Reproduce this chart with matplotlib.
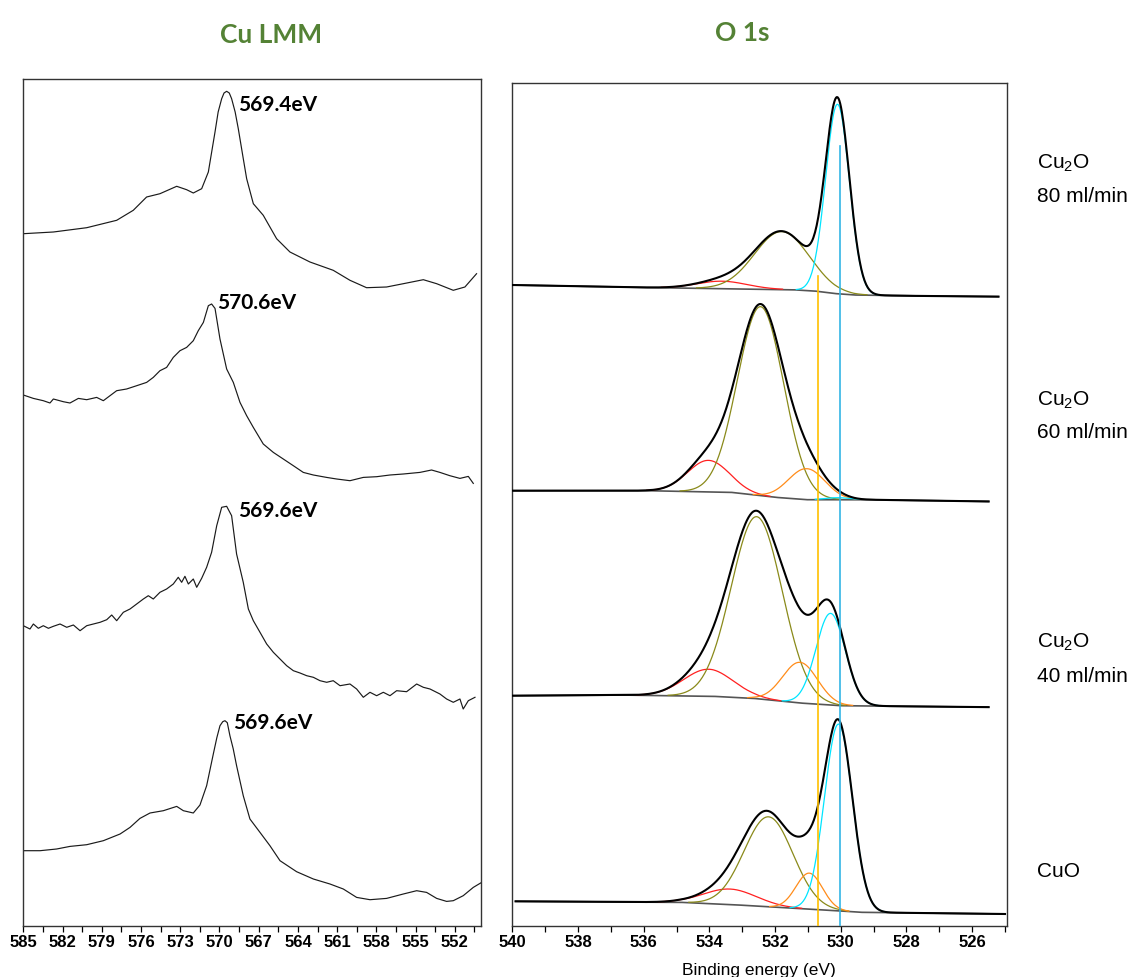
import matplotlib.pyplot as plt
import numpy as np

# ---- Cu LMM (left panel), spectra from top to bottom ----
lmm_peak_labels = ["569.4eV", "570.6eV", "569.6eV", "569.6eV"]
lmm_offsets = [634, 440.3, 217, 20.3]

lmm_ev_80 = [585.0, 582.70, 580.15, 577.86, 576.59, 575.57, 574.55, 573.27, 572.51, 572.0,
             571.36, 570.85, 570.34, 570.1, 569.83, 569.65, 569.45, 569.25, 569.07, 568.8,
             568.56, 568.2, 567.92, 567.41, 566.65, 565.63, 564.61, 563.08, 561.3, 560.02,
             558.75, 557.22, 555.94, 554.41, 553.39, 552.12, 551.23, 550.34]
lmm_int_80 = [58.3, 60, 64.3, 71.7, 81.7, 95, 98.3, 105.7, 102.3, 99,
              103.3, 120, 160, 180, 193.3, 199, 200.7, 199, 193.3, 180,
              163.3, 135, 113.3, 88.3, 76.7, 53.3, 40, 30, 21.7, 11.7,
              4.3, 5, 8.3, 12.3, 8.3, 1.7, 5, 18.3]

lmm_ev_60 = [585.0, 584.23, 583.47, 582.96, 582.70, 581.94, 581.43, 580.79, 580.15, 579.39,
             578.88, 578.37, 577.86, 577.1, 576.33, 575.57, 575.06, 574.55, 574.04, 573.53,
             573.02, 572.51, 572.0, 571.62, 571.23, 570.85, 570.6, 570.34, 569.96, 569.45,
             568.94, 568.43, 567.92, 567.41, 566.65, 565.88, 565.12, 564.35, 563.59, 562.82,
             561.81, 561.04, 560.02, 559.0, 557.98, 556.96, 555.94, 554.67, 553.78, 553.14,
             552.38, 551.61, 550.97, 550.59]
lmm_int_60 = [90.7, 87.3, 85, 82.7, 86.7, 84, 82.7, 87.3, 86, 88.3,
              85, 90, 95, 96.7, 100, 103.3, 108.3, 115, 118.3, 128.3,
              135, 138.3, 145, 155, 163.3, 180, 181.7, 177.3, 146.7, 116.7,
              103.3, 83.3, 70, 58.3, 41.7, 33.3, 26.7, 20, 13.3, 10.7,
              8.3, 6.7, 5, 8.3, 9, 10.7, 11.7, 13.3, 15.7, 13.3,
              10, 7.3, 9.3, 2.3]

lmm_ev_40 = [585.0, 584.49, 584.23, 583.85, 583.47, 583.08, 582.7, 582.19, 581.68, 581.17,
             580.66, 580.15, 579.64, 579.13, 578.62, 578.24, 577.86, 577.35, 576.84, 576.33,
             575.82, 575.44, 575.06, 574.55, 574.04, 573.53, 573.15, 572.89, 572.64, 572.38,
             572.0, 571.74, 571.36, 570.98, 570.6, 570.21, 569.83, 569.45, 569.07, 568.69,
             568.18, 567.79, 567.41, 566.9, 566.39, 565.88, 565.37, 564.86, 564.35, 563.84,
             563.33, 562.82, 562.31, 561.8, 561.3, 560.78, 560.02, 559.51, 559.0, 558.49,
             557.98, 557.47, 556.96, 556.45, 555.69, 554.92, 554.41, 553.9, 553.14, 552.63,
             552.12, 551.61, 551.36, 550.97, 550.46]
lmm_int_40 = [83.3, 80, 85, 80.7, 83.3, 80.7, 82.7, 85, 81.7, 84,
              78.3, 83.3, 85, 86.7, 89.3, 94, 88.3, 96.7, 100, 105,
              110, 113.3, 110, 116.7, 120, 125, 131.7, 126.7, 132.7, 125,
              130, 121.7, 130.7, 141.7, 156.7, 183.3, 201.7, 202.7, 193.3, 155,
              126.7, 100, 88.3, 76.7, 65, 56.7, 50, 43.3, 38.3, 36,
              33.3, 31.7, 28.3, 26.7, 28.3, 23.3, 25, 20, 11.7, 16.7,
              13.3, 16.7, 13.3, 18.3, 17.3, 25, 21.7, 20, 15, 10,
              6.7, 10, 0, 8.3, 11.7]

lmm_ev_cuo = [585.0, 583.72, 582.45, 581.43, 580.15, 578.88, 577.6, 576.84, 576.08, 575.31,
              574.29, 573.27, 572.76, 572.0, 571.49, 570.98, 570.47, 570.2, 569.96, 569.75,
              569.58, 569.4, 569.2, 568.95, 568.69, 568.18, 567.67, 566.9, 566.14, 565.37,
              564.1, 562.82, 561.55, 560.53, 559.51, 558.49, 557.22, 555.94, 554.92, 554.16,
              553.39, 552.63, 552.12, 551.36, 550.59, 549.95]
lmm_int_cuo = [55, 55, 56.7, 59.3, 61, 65, 71.7, 78.3, 87.3, 92.7,
               95, 99.3, 95, 92.7, 100.7, 120, 151.7, 168, 180, 184,
               185, 183, 170, 157, 140, 110, 86.7, 73.3, 60, 45,
               34, 26.7, 21.7, 16.7, 8.3, 6, 7.3, 11.7, 15, 13.3,
               7.3, 4.3, 5, 10, 18.3, 23.3]

lmm_ev = [lmm_ev_80, lmm_ev_60, lmm_ev_40, lmm_ev_cuo]
lmm_int = [lmm_int_80, lmm_int_60, lmm_int_40, lmm_int_cuo]
# label anchor (eV, height in axis units)
lmm_label_ev = [568.59, 570.21, 568.59, 568.97]
lmm_label_y = [822, 624, 416, 204]

# ---- O 1s (right panel), spectra from top to bottom ----
o1s_sample_names = ["Cu$_\\mathregular{2}$O", "Cu$_\\mathregular{2}$O", "Cu$_\\mathregular{2}$O", "CuO"]
o1s_flows = ["80 ml/min", "60 ml/min", "40 ml/min", ""]
o1s_offsets = [629.3, 424.3, 218.7, 12]
o1s_ranges = [(540, 525.2), (540, 525.5), (540, 525.5), (539.9, 525.0)]

# Shirley-type background, relative to each spectrum baseline
bg_ev = [[540, 536, 533, 531.5, 530.8, 530.2, 529.6, 528, 525.0],
         [540, 535.9, 533.35, 532.0, 531.05, 529.2, 525.0],
         [540, 536.8, 533.9, 532.68, 531.25, 530.03, 525.0],
         [540, 534.9, 533.27, 531.95, 530.12, 529.41, 525.0]]
bg_int = [[11.7, 9.2, 7.7, 7, 5.7, 3.2, 1.7, 0.9, 0],
          [11, 11, 9.4, 4.4, 2, 2, 0],
          [11.6, 12.3, 11, 9, 4.3, 1.6, 0],
          [12.7, 11.7, 9.3, 6.7, 3.3, 1.7, 0]]

# fitted components: center (eV), height, FWHM (eV)
red_center = [533.62, 534.03, 534.03, 533.37]
red_height = [7.5, 31.5, 27, 15.5]
red_fwhm = [1.8, 1.5, 1.78, 1.9]
olive_center = [531.8, 532.44, 532.56, 532.2]
olive_height = [58, 189, 182, 90]
olive_fwhm = [1.95, 1.65, 1.83, 1.75]
orange_center = [531.0, 531.04, 531.24, 530.96]
orange_height = [0, 31, 40.7, 36]
orange_fwhm = [1.2, 1.3, 1.25, 0.95]
cyan_center = [530.1, 530.1, 530.31, 530.07]
cyan_height = [189.5, 2, 91.7, 186.7]
cyan_fwhm = [0.85, 0.9, 1.05, 1.0]

ref_lines = [530.68, 530.03]


def gauss(x, c, h, w):
    return h * np.exp(-4 * np.log(2) * ((x - c) / w) ** 2)


fig = plt.figure(figsize=(11.39, 9.78), dpi=100)
W, H = 1139.0, 978.0

# ---------- left panel ----------
ax1 = fig.add_axes([23.3 / W, 51 / H, (481 - 23.3) / W, (927 - 80) / H])
for i in range(4):
    y = np.array(lmm_int[i]) + lmm_offsets[i]
    ax1.plot(lmm_ev[i], y, color="#1a1a1a", lw=0.85)
    ax1.text(lmm_label_ev[i], lmm_label_y[i], lmm_peak_labels[i], fontsize=15,
             fontweight="bold", family="Lato", va="center", ha="left")
ax1.set_xlim(585, 550)
ax1.set_ylim(0, 847)
ax1.set_xticks(np.arange(585, 551, -3))
ax1.set_xticks(np.arange(583.5, 550, -1.5), minor=True)
ax1.set_yticks([])

# ---------- right panel ----------
ax2 = fig.add_axes([512.3 / W, 51 / H, (1007 - 512.3) / W, (927 - 84) / H])
comp_sets = [(red_center, red_height, red_fwhm, "#ff2020"),
             (olive_center, olive_height, olive_fwhm, "#8a8a1a"),
             (orange_center, orange_height, orange_fwhm, "#ff8c1a"),
             (cyan_center, cyan_height, cyan_fwhm, "#00e5ff")]
for i in range(4):
    x = np.linspace(o1s_ranges[i][0], o1s_ranges[i][1], 600)
    bg = np.interp(x, bg_ev[i][::-1], bg_int[i][::-1]) + o1s_offsets[i]
    env = bg.copy()
    for cen, hgt, fw, col in comp_sets:
        if hgt[i] <= 0:
            continue
        comp = gauss(x, cen[i], hgt[i], fw[i])
        env += comp
        c = np.where(comp > 0.4, comp + bg, np.nan)
        ax2.plot(x, c, color=col, lw=0.9, zorder=3)
    ax2.plot(x, bg, color="#555555", lw=1.2, zorder=2)
    ax2.plot(x, env, color="black", lw=1.5, zorder=4)

ax2.plot([ref_lines[0], ref_lines[0]], [0, 650], color="#ffc000", lw=1.2, zorder=5)
ax2.plot([ref_lines[1], ref_lines[1]], [0, 780], color="#33b5e5", lw=1.2, zorder=5)
ax2.set_xlim(540, 524.94)
ax2.set_ylim(0, 843)
ax2.set_xticks(np.arange(540, 525, -2))
ax2.set_xticks(np.arange(539, 524.9, -2), minor=True)
ax2.set_yticks([])

for ax in (ax1, ax2):
    for s in ax.spines.values():
        s.set_linewidth(1.0)
        s.set_color("#333333")
    ax.tick_params(axis="x", which="both", direction="out", length=4, width=0.9, pad=2)
    for lab in ax.get_xticklabels():
        lab.set_fontsize(12)
        lab.set_fontweight("bold")
        lab.set_family("Liberation Sans")

# sample labels to the right of the O 1s panel
name_y = [163, 400, 642, 872]
flow_y = [196, 433, 676, 905]
for i in range(4):
    fig.text(1037 / W, 1 - name_y[i] / H, o1s_sample_names[i], fontsize=15,
             family="Liberation Sans", va="center", ha="left")
    if o1s_flows[i]:
        fig.text(1037 / W, 1 - flow_y[i] / H, o1s_flows[i], fontsize=15,
                 family="Liberation Sans", va="center", ha="left")

fig.text(271 / W, 1 - 35 / H, "Cu LMM", color="#548235", fontsize=19, fontweight="bold",
         family="Lato", ha="center", va="center")
fig.text(742 / W, 1 - 33 / H, "O 1s", color="#548235", fontsize=19, fontweight="bold",
         family="Lato", ha="center", va="center")
fig.text(759 / W, 1 - 975 / H, "Binding energy (eV)", fontsize=12.5,
         family="Liberation Sans", ha="center", va="baseline")

fig.savefig("out.png", dpi=100)
